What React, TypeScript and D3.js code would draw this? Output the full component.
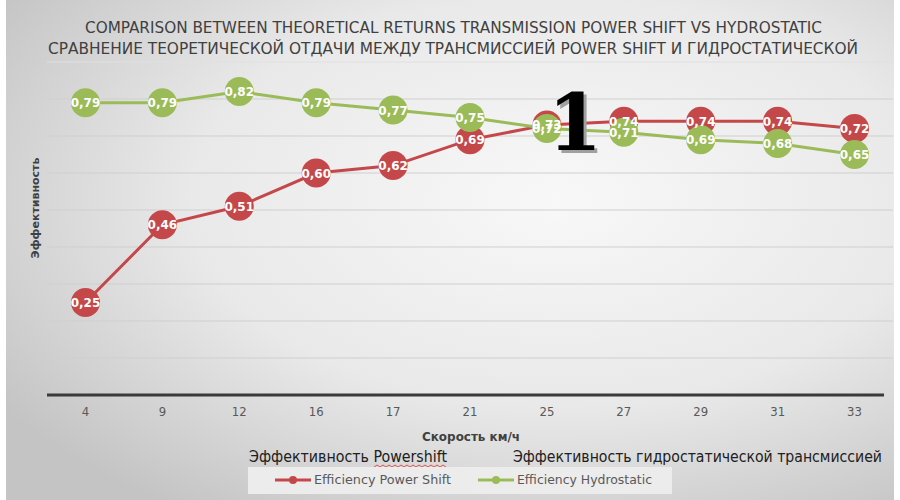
import * as d3 from 'd3';

const speeds = ['4', '9', '12', '16', '17', '21', '25', '27', '29', '31', '33'];
const powerShift = [0.25, 0.46, 0.51, 0.6, 0.62, 0.69, 0.73, 0.74, 0.74, 0.74, 0.72];
const hydrostatic = [0.79, 0.79, 0.82, 0.79, 0.77, 0.75, 0.72, 0.71, 0.69, 0.68, 0.65];
const yTicks = [0, 0.1, 0.2, 0.3, 0.4, 0.5, 0.6, 0.7, 0.8, 0.9];

const titleLines = [
  'COMPARISON BETWEEN THEORETICAL RETURNS TRANSMISSION POWER SHIFT VS HYDROSTATIC',
  'СРАВНЕНИЕ ТЕОРЕТИЧЕСКОЙ ОТДАЧИ МЕЖДУ ТРАНСМИССИЕЙ POWER SHIFT И ГИДРОСТАТИЧЕСКОЙ',
];

const RED = '#c4484a';
const GREEN = '#9bbb59';
const NARROW = '"Liberation Sans Narrow", "DejaVu Sans Condensed", "Noto Sans", sans-serif';

const App = () => {
  const width = 900;
  const height = 500;

  const x = d3.scaleBand().domain(speeds).range([47, 893]);
  const y = d3.scaleLinear().domain([0, 0.9]).range([395, 62]);
  const cx = (i: number) => (x(speeds[i]) || 0) + x.bandwidth() / 2;

  const line = d3.line<number>()
    .x((_, i) => cx(i))
    .y(d => y(d));

  const fmt = (v: number) => v.toFixed(2).replace('.', ',');

  const series = [
    { values: powerShift, color: RED },
    { values: hydrostatic, color: GREEN },
  ];

  return (
    <div style={{ position: 'absolute', left: 0, top: 0 }}>
      <svg width={width} height={height} style={{ display: 'block' }}>
        <defs>
          <radialGradient id="bg" cx="0.62" cy="0.4" r="0.75">
            <stop offset="0" stopColor="#f8f8f8" />
            <stop offset="0.55" stopColor="#e9e9e9" />
            <stop offset="1" stopColor="#c4c4c4" />
          </radialGradient>
        </defs>
        <rect width={width} height={height} fill="#ffffff" />
        <rect x={6} y={0} width={888} height={500} fill="url(#bg)" />

        {/* title */}
        {titleLines.map((t, i) => (
          <text
            key={i}
            x={i === 0 ? 85 : 48}
            y={33 + i * 21}
            textLength={i === 0 ? 737 : 810}
            lengthAdjust="spacingAndGlyphs"
            fontFamily={NARROW}
            fontSize={16}
            fill="#404040"
          >
            {t}
          </text>
        ))}

        {/* gridlines */}
        {yTicks.slice(1).map(t => (
          <line
            key={t}
            x1={47}
            x2={893}
            y1={y(t)}
            y2={y(t)}
            stroke={t === 0.9 ? '#e0e0e0' : '#cfcfcf'}
            strokeWidth={1}
          />
        ))}
        <line x1={47} x2={884} y1={y(0)} y2={y(0)} stroke="#3a3a3a" strokeWidth={3} />

        {/* x tick labels */}
        {speeds.map((s, i) => (
          <text
            key={s}
            x={cx(i)}
            y={416}
            textAnchor="middle"
            fontFamily={NARROW}
            fontSize={13}
            fill="#595959"
          >
            {s}
          </text>
        ))}

        {/* axis titles */}
        <text x={422} y={441} textLength={98} lengthAdjust="spacingAndGlyphs" fontFamily={NARROW} fontSize={12} fontWeight="bold" fill="#404040">
          Скорость км/ч
        </text>
        <text
          transform="translate(39,208) rotate(-90)"
          textAnchor="middle"
          fontFamily='"DejaVu Sans", sans-serif'
          fontSize={11}
          fontWeight="bold"
          fill="#404040"
        >
          Эффективность
        </text>

        {/* lines */}
        {series.map((s, k) => (
          <path key={k} d={line(s.values) || ''} fill="none" stroke={s.color} strokeWidth={3} />
        ))}
        {series.map((s, k) =>
          s.values.map((v, i) => (
            <circle key={`${k}-${i}`} cx={cx(i)} cy={y(v)} r={14.5} fill={s.color} />
          ))
        )}
        {series.map((s, k) =>
          s.values.map((v, i) => (
            <text
              key={`l${k}-${i}`}
              x={cx(i)}
              y={y(v) + 4.5}
              textAnchor="middle"
              fontFamily='"DejaVu Sans", sans-serif'
              fontSize={12}
              fontWeight="bold"
              fill="#ffffff"
            >
              {fmt(v)}
            </text>
          ))
        )}

        {/* big number annotation */}
        <text x={578} y={153} textAnchor="middle" fontFamily='"DejaVu Serif", serif' fontSize={78} fontWeight="bold" fill="#a0a0a0">
          1
        </text>
        <text x={575} y={150} textAnchor="middle" fontFamily='"DejaVu Serif", serif' fontSize={78} fontWeight="bold" fill="#000000">
          1
        </text>

        {/* legend header text */}
        <text x={249} y={462} textLength={198} lengthAdjust="spacingAndGlyphs" fontFamily={NARROW} fontSize={16} fill="#202020">
          Эффективность Powershift
        </text>
        <path
          d={d3.range(0, 74, 3).map((d, i) => `${i === 0 ? 'M' : 'L'}${374 + d},${i % 2 ? 465 : 467}`).join('')}
          fill="none"
          stroke="#e03030"
          strokeWidth={0.8}
        />
        <text x={513} y={462} textLength={369} lengthAdjust="spacingAndGlyphs" fontFamily={NARROW} fontSize={16} fill="#202020">
          Эффективность гидростатической трансмиссией
        </text>

        {/* legend */}
        <rect x={248} y={467} width={424} height={27} fill="#ececec" />
        {[
          { label: 'Efficiency Power Shift', color: RED, x0: 275, len: 137 },
          { label: 'Efficiency Hydrostatic', color: GREEN, x0: 478, len: 135 },
        ].map(l => (
          <g key={l.label}>
            <line x1={l.x0} x2={l.x0 + 36} y1={480} y2={480} stroke={l.color} strokeWidth={3} />
            <circle cx={l.x0 + 18} cy={480} r={4} fill={l.color} />
            <text x={l.x0 + 39} y={484} textLength={l.len} lengthAdjust="spacingAndGlyphs" fontFamily={NARROW} fontSize={13} fill="#595959">
              {l.label}
            </text>
          </g>
        ))}
      </svg>
    </div>
  );
};

export default App;
